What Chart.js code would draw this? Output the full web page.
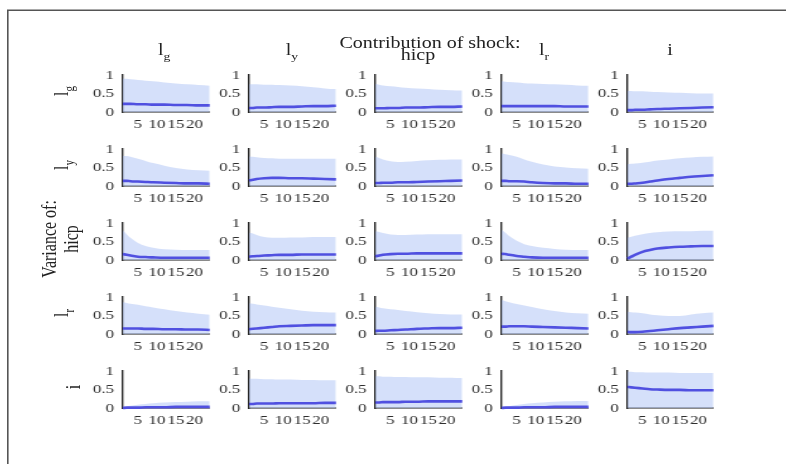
<!DOCTYPE html>
<html>
<head>
<meta charset="utf-8">
<title>Variance decomposition</title>
<script src="https://cdn.jsdelivr.net/npm/chart.js@4/dist/chart.umd.min.js"></script>
<style>
  html, body { margin: 0; padding: 0; background: #fff; overflow: hidden; }
  #stage {
    position: absolute; left: 0; top: 0; width: 629px; height: 464px;
    transform: scaleX(1.25); transform-origin: 0 0;
    font-family: "Liberation Serif", "Times New Roman", serif; color: #222;
  }
  .cell { position: absolute; }
  .lbl { position: absolute; white-space: nowrap; font-size: 16px; line-height: 16px; }
  .rot { transform: translate(-50%, -50%) rotate(-90deg); text-align: center; }
  .sub { font-size: 11px; position: relative; top: 5px; }
</style>
</head>
<body>
<canvas id="rules" width="786" height="464" style="position:absolute;left:0;top:0;"></canvas>
<div id="stage"></div>
<script>
// Forecast horizons at which the shares are sampled
const horizons = [1, 2, 3, 5, 7, 9, 12, 15, 18, 21, 24];
const xTicks = [5, 10, 15, 20];
const yTicks = [0, 0.5, 1];

// Shock (column) and variable (row) labels, as HTML with subscripts
const shockLabels = ['l<span class="sub">g</span>', 'l<span class="sub">y</span>', 'hicp', 'l<span class="sub">r</span>', 'i'];
const variableLabels = ['l<span class="sub">g</span>', 'l<span class="sub">y</span>', 'hicp', 'l<span class="sub">r</span>', 'i'];

// Variance of l_g: median share and upper band, one list per shock
const med_lg = [
  [0.22, 0.22, 0.22, 0.21, 0.21, 0.20, 0.20, 0.19, 0.19, 0.18, 0.18],
  [0.11, 0.11, 0.12, 0.12, 0.13, 0.14, 0.14, 0.15, 0.16, 0.16, 0.17],
  [0.10, 0.10, 0.10, 0.11, 0.11, 0.12, 0.12, 0.13, 0.14, 0.14, 0.15],
  [0.16, 0.16, 0.16, 0.16, 0.16, 0.16, 0.16, 0.16, 0.15, 0.15, 0.15],
  [0.05, 0.05, 0.06, 0.06, 0.07, 0.08, 0.09, 0.10, 0.11, 0.12, 0.13]
];
const up_lg = [
  [0.91, 0.90, 0.89, 0.87, 0.85, 0.83, 0.80, 0.77, 0.75, 0.73, 0.71],
  [0.75, 0.75, 0.75, 0.74, 0.74, 0.73, 0.72, 0.70, 0.67, 0.64, 0.62],
  [0.76, 0.74, 0.72, 0.70, 0.68, 0.66, 0.64, 0.62, 0.60, 0.59, 0.58],
  [0.83, 0.82, 0.81, 0.80, 0.78, 0.77, 0.76, 0.75, 0.74, 0.72, 0.71],
  [0.57, 0.57, 0.56, 0.56, 0.55, 0.54, 0.53, 0.52, 0.51, 0.50, 0.50]
];

// Variance of l_y
const med_ly = [
  [0.14, 0.14, 0.13, 0.12, 0.11, 0.10, 0.09, 0.08, 0.07, 0.07, 0.06],
  [0.15, 0.17, 0.19, 0.21, 0.22, 0.22, 0.21, 0.21, 0.20, 0.19, 0.18],
  [0.08, 0.08, 0.09, 0.09, 0.10, 0.10, 0.11, 0.12, 0.13, 0.14, 0.15],
  [0.14, 0.14, 0.13, 0.13, 0.12, 0.10, 0.08, 0.07, 0.07, 0.06, 0.06],
  [0.06, 0.06, 0.07, 0.09, 0.12, 0.15, 0.19, 0.22, 0.25, 0.27, 0.29]
];
const up_ly = [
  [0.82, 0.81, 0.79, 0.74, 0.68, 0.62, 0.55, 0.49, 0.45, 0.43, 0.41],
  [0.80, 0.79, 0.78, 0.76, 0.75, 0.74, 0.74, 0.74, 0.74, 0.74, 0.74],
  [0.79, 0.76, 0.72, 0.67, 0.65, 0.66, 0.68, 0.70, 0.71, 0.72, 0.72],
  [0.88, 0.86, 0.84, 0.79, 0.72, 0.66, 0.58, 0.53, 0.50, 0.48, 0.47],
  [0.59, 0.60, 0.61, 0.63, 0.66, 0.69, 0.72, 0.75, 0.77, 0.79, 0.80]
];

// Variance of hicp
const med_hicp = [
  [0.16, 0.14, 0.12, 0.09, 0.08, 0.07, 0.06, 0.06, 0.06, 0.06, 0.06],
  [0.09, 0.10, 0.11, 0.12, 0.13, 0.14, 0.14, 0.15, 0.15, 0.15, 0.15],
  [0.10, 0.12, 0.14, 0.16, 0.17, 0.17, 0.18, 0.18, 0.18, 0.18, 0.18],
  [0.17, 0.16, 0.14, 0.11, 0.09, 0.07, 0.06, 0.06, 0.06, 0.06, 0.06],
  [0.04, 0.09, 0.14, 0.22, 0.27, 0.31, 0.34, 0.36, 0.37, 0.38, 0.38]
];
const up_hicp = [
  [0.80, 0.70, 0.60, 0.46, 0.38, 0.33, 0.29, 0.28, 0.27, 0.27, 0.27],
  [0.74, 0.72, 0.68, 0.62, 0.60, 0.60, 0.61, 0.61, 0.62, 0.62, 0.62],
  [0.78, 0.76, 0.73, 0.69, 0.68, 0.68, 0.69, 0.70, 0.70, 0.70, 0.70],
  [0.82, 0.74, 0.65, 0.52, 0.43, 0.38, 0.33, 0.30, 0.28, 0.27, 0.27],
  [0.60, 0.63, 0.66, 0.70, 0.73, 0.75, 0.77, 0.78, 0.78, 0.79, 0.79]
];

// Variance of l_r
const med_lr = [
  [0.15, 0.15, 0.15, 0.15, 0.14, 0.14, 0.13, 0.13, 0.12, 0.12, 0.11],
  [0.13, 0.14, 0.15, 0.17, 0.19, 0.21, 0.22, 0.23, 0.24, 0.24, 0.24],
  [0.08, 0.09, 0.09, 0.10, 0.11, 0.12, 0.14, 0.15, 0.16, 0.16, 0.17],
  [0.20, 0.20, 0.21, 0.21, 0.21, 0.20, 0.19, 0.18, 0.17, 0.16, 0.15],
  [0.06, 0.05, 0.05, 0.06, 0.08, 0.10, 0.13, 0.16, 0.18, 0.20, 0.22]
];
const up_lr = [
  [0.86, 0.84, 0.82, 0.79, 0.75, 0.72, 0.67, 0.62, 0.58, 0.55, 0.52],
  [0.83, 0.82, 0.80, 0.77, 0.74, 0.71, 0.67, 0.63, 0.60, 0.59, 0.58],
  [0.74, 0.72, 0.70, 0.67, 0.65, 0.62, 0.59, 0.56, 0.54, 0.53, 0.53],
  [0.92, 0.89, 0.86, 0.81, 0.77, 0.73, 0.67, 0.62, 0.58, 0.56, 0.55],
  [0.60, 0.59, 0.58, 0.56, 0.53, 0.51, 0.49, 0.49, 0.53, 0.56, 0.58]
];

// Variance of i
const med_i = [
  [0.00, 0.01, 0.01, 0.01, 0.02, 0.02, 0.02, 0.03, 0.03, 0.03, 0.03],
  [0.11, 0.11, 0.12, 0.12, 0.12, 0.13, 0.13, 0.13, 0.13, 0.14, 0.14],
  [0.15, 0.15, 0.16, 0.16, 0.16, 0.17, 0.17, 0.18, 0.18, 0.18, 0.18],
  [0.00, 0.01, 0.01, 0.01, 0.02, 0.02, 0.02, 0.03, 0.03, 0.03, 0.03],
  [0.57, 0.56, 0.55, 0.53, 0.51, 0.50, 0.49, 0.49, 0.48, 0.48, 0.48]
];
const up_i = [
  [0.02, 0.04, 0.06, 0.09, 0.11, 0.13, 0.15, 0.16, 0.17, 0.18, 0.18],
  [0.80, 0.79, 0.79, 0.78, 0.78, 0.77, 0.77, 0.76, 0.76, 0.75, 0.75],
  [0.86, 0.86, 0.85, 0.85, 0.84, 0.84, 0.83, 0.83, 0.82, 0.82, 0.81],
  [0.01, 0.03, 0.05, 0.08, 0.11, 0.13, 0.15, 0.17, 0.18, 0.19, 0.19],
  [0.98, 0.98, 0.97, 0.97, 0.96, 0.96, 0.96, 0.95, 0.95, 0.95, 0.95]
];

const rowMedians = [med_lg, med_ly, med_hicp, med_lr, med_i];
const rowUppers = [up_lg, up_ly, up_hicp, up_lr, up_i];

// Figure frame: top and left edges only
(function drawFrame() {
  const ctx = document.getElementById('rules').getContext('2d');
  ctx.strokeStyle = '#555';
  ctx.lineWidth = 1.6;
  ctx.beginPath();
  ctx.moveTo(7.8, 470);
  ctx.lineTo(7.8, 10.3);
  ctx.lineTo(800, 10.3);
  ctx.stroke();
})();

// ---- layout of the 5x5 grid (stage is stretched horizontally by SX) ----
const SX = 1.25;
const AREA_W = 86 / SX, AREA_H = 43;
const Y_W = 30, X_H = 26, PAD_T = 9, PAD_R = 5;
const areaLeft = c => (123 + 126 * c) / SX;
const areaTop = r => 69 + 74 * r;

const stage = document.getElementById('stage');
const tickFont = { family: '"Liberation Serif", "Times New Roman", serif', size: 13.5 };

function points(values) {
  return horizons.map((h, k) => ({ x: h, y: values[k] }));
}

function makePanel(r, c) {
  const cell = document.createElement('div');
  cell.className = 'cell';
  cell.style.left = (areaLeft(c) - Y_W) + 'px';
  cell.style.top = (areaTop(r) - PAD_T) + 'px';
  cell.style.width = (Y_W + AREA_W + PAD_R) + 'px';
  cell.style.height = (PAD_T + AREA_H + X_H) + 'px';
  const canvas = document.createElement('canvas');
  cell.appendChild(canvas);
  stage.appendChild(cell);

  new Chart(canvas, {
    type: 'line',
    data: {
      datasets: [
        {
          data: points(rowMedians[r][c]),
          borderColor: '#5050e0',
          borderWidth: 2.6,
          pointRadius: 0,
          fill: false,
          cubicInterpolationMode: 'monotone',
          clip: false
        },
        {
          data: points(rowUppers[r][c]),
          borderWidth: 0,
          borderColor: 'rgba(0,0,0,0)',
          backgroundColor: 'rgba(171,193,245,0.5)',
          pointRadius: 0,
          fill: 'origin',
          cubicInterpolationMode: 'monotone'
        }
      ]
    },
    options: {
      responsive: true,
      maintainAspectRatio: false,
      animation: false,
      events: [],
      layout: { padding: { top: PAD_T, right: PAD_R, left: 0, bottom: 0 } },
      plugins: { legend: { display: false }, tooltip: { enabled: false }, title: { display: false } },
      scales: {
        x: {
          type: 'linear', min: 1, max: 24,
          afterBuildTicks: s => { s.ticks = xTicks.map(v => ({ value: v })); },
          afterFit: s => { s.height = X_H; },
          grid: { display: false, drawTicks: false, tickLength: 0 },
          border: { display: true, color: '#8a8a8a', width: 2 },
          ticks: { font: tickFont, color: '#2e2e2e', padding: 4, autoSkip: false, maxRotation: 0, minRotation: 0,
                   callback: v => String(v) }
        },
        y: {
          type: 'linear', min: 0, max: 1,
          afterBuildTicks: s => { s.ticks = yTicks.map(v => ({ value: v })); },
          afterFit: s => { s.width = Y_W; },
          grid: { display: false, drawTicks: false, tickLength: 0 },
          border: { display: true, color: '#262626', width: 1.4 },
          ticks: { font: tickFont, color: '#2e2e2e', padding: 7, autoSkip: false,
                   callback: v => String(v) }
        }
      }
    }
  });
}

for (let r = 0; r < 5; r++) {
  for (let c = 0; c < 5; c++) makePanel(r, c);
}

// ---- titles and axis labels ----
// Horizontal text: baseline sits 13.4px below the box top for 16px/16px text.
function addTitle(html, cx, baseline) {
  const d = document.createElement('div');
  d.className = 'lbl';
  d.innerHTML = html;
  d.style.left = (cx - 120) + 'px';
  d.style.width = '240px';
  d.style.textAlign = 'center';
  d.style.top = (baseline - 13.4) + 'px';
  stage.appendChild(d);
}
// Rotated text centred on (cx, cy)
function addRowLabel(html, cx, cy, lineHeight) {
  const d = document.createElement('div');
  d.className = 'lbl rot';
  d.innerHTML = html;
  d.style.left = cx + 'px';
  d.style.top = cy + 'px';
  if (lineHeight) d.style.lineHeight = lineHeight + 'px';
  stage.appendChild(d);
}

const colCentre = c => areaLeft(c) + AREA_W / 2;
shockLabels.forEach((html, c) => {
  const baseline = c === 2 ? 60 : 55;
  addTitle(html, colCentre(c) - (c === 0 ? 1.5 : 0), baseline);
});
addTitle('Contribution of shock:', 430 / SX, 48);

variableLabels.forEach((html, r) => {
  const cy = areaTop(r) + AREA_H / 2;
  if (r === 2) {
    addRowLabel('Variance of:<br>' + html, 48.2, cy, 17.6);
  } else if (r === 4) {
    addRowLabel(html, 58.6, cy);
  } else {
    addRowLabel(html, 49.5, cy);
  }
});
</script>
</body>
</html>
